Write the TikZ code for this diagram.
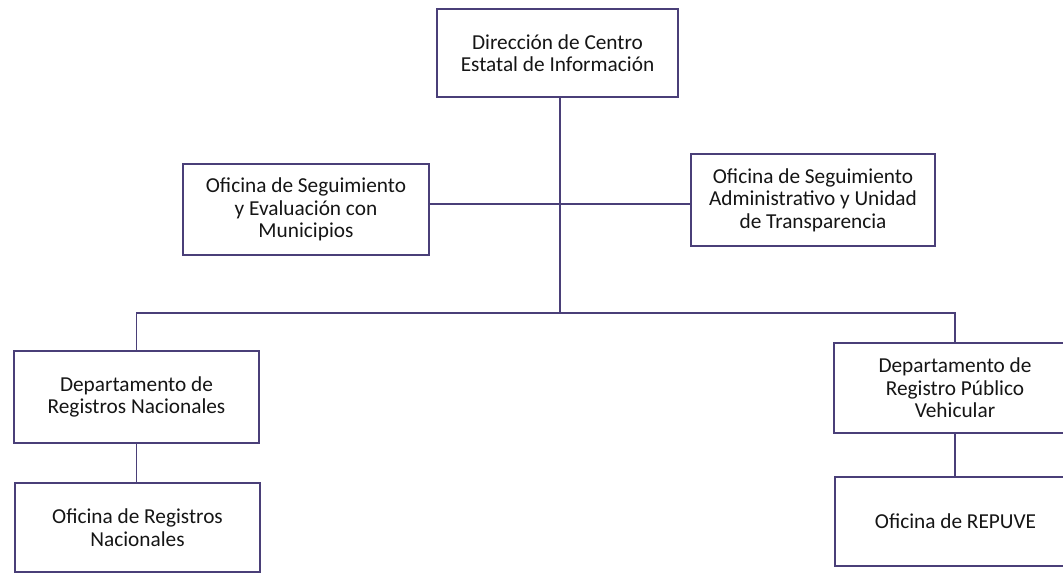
\documentclass[tikz,border=0pt]{standalone}
\usepackage{fontspec}
\setmainfont{Carlito}
\definecolor{lncol}{HTML}{4A3F78}
\definecolor{txcol}{HTML}{151515}
\begin{document}
\begin{tikzpicture}[x=1pt,y=-1pt,
  box/.style={draw=lncol,line width=1.3pt,text=txcol,align=center,inner sep=0pt,
    font=\fontsize{21.3}{22.5}\selectfont},
  link/.style={draw=lncol,line width=1.3pt}]
\useasboundingbox (0,0) rectangle (1063,574);
\begin{scope}
\clip (0,0) rectangle (1063,574);
\node[box,minimum width=241pt,minimum height=88pt] (top) at (557.5,53) {Dirección de Centro\\Estatal de Información};
\node[box,minimum width=246pt,minimum height=91pt] (lm) at (306,209.5) {Oficina de Seguimiento\\y Evaluación con\\Municipios};
\node[box,minimum width=244pt,minimum height=92pt] (rm) at (813,200) {Oficina de Seguimiento\\Administrativo y Unidad\\de Transparencia};
\node[box,minimum width=245pt,minimum height=92pt] (ld) at (136.5,397) {Departamento de\\Registros Nacionales};
\node[box,minimum width=245pt,minimum height=89pt] (lo) at (137.5,527.5) {Oficina de Registros\\Nacionales};
\node[box,minimum width=242pt,minimum height=90pt] (rd) at (955,388) {Departamento de\\Registro Público\\Vehicular};
\node[box,minimum width=241pt,minimum height=89pt] (ro) at (955.5,521.5) {Oficina de REPUVE};
\coordinate (bus) at (560,313);
\coordinate (hl) at (560,204);
\draw[link] ([xshift=2.5pt]top.south) -- (bus);
\draw[link] (hl -| lm.east) -- (hl -| rm.west);
\draw[link] (ld.north) -- (ld.north |- bus) -- (rd.north |- bus) -- (rd.north);
\draw[link] (ld.south) -- (ld.south |- lo.north);
\draw[link] (rd.south) -- (rd.south |- ro.north);
\end{scope}
\end{tikzpicture}
\end{document}
